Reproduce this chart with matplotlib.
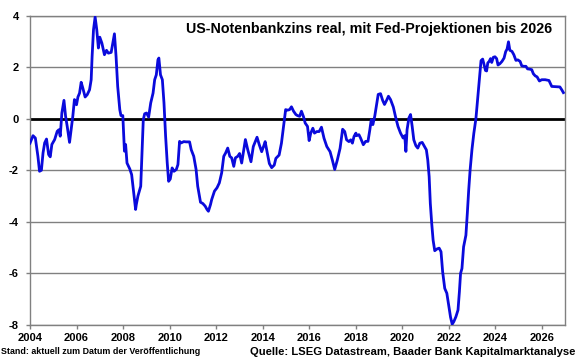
import matplotlib
matplotlib.use("Agg")
import matplotlib.pyplot as plt
import numpy as np

plt.rcParams['font.family'] = ['Liberation Sans', 'DejaVu Sans']

# decimal year, real Fed funds rate (%)
dates = [
    2004.00, 2004.13, 2004.23, 2004.34, 2004.41, 2004.49, 2004.56, 2004.63, 2004.71, 2004.80,
    2004.87, 2004.94, 2005.06, 2005.17, 2005.24, 2005.30, 2005.37, 2005.46, 2005.53, 2005.60,
    2005.70, 2005.77, 2005.84, 2005.91, 2006.00, 2006.06, 2006.13, 2006.20, 2006.27, 2006.37,
    2006.46, 2006.56, 2006.63, 2006.67, 2006.73, 2006.80, 2006.87, 2006.94, 2007.00, 2007.09,
    2007.20, 2007.29, 2007.37, 2007.49, 2007.56, 2007.63, 2007.70, 2007.77, 2007.86, 2007.91,
    2007.99, 2008.06, 2008.11, 2008.17, 2008.29, 2008.37, 2008.46, 2008.54, 2008.57, 2008.64,
    2008.76, 2008.81, 2008.87, 2008.93, 2009.01, 2009.10, 2009.19, 2009.29, 2009.36, 2009.43,
    2009.50, 2009.54, 2009.61, 2009.69, 2009.76, 2009.83, 2009.90, 2009.96, 2010.03, 2010.11,
    2010.19, 2010.29, 2010.36, 2010.43, 2010.50, 2010.61, 2010.71, 2010.86, 2010.93, 2011.04,
    2011.14, 2011.21, 2011.33, 2011.43, 2011.53, 2011.61, 2011.67, 2011.76, 2011.81, 2011.93,
    2012.04, 2012.14, 2012.24, 2012.33, 2012.41, 2012.50, 2012.59, 2012.67, 2012.76, 2012.83,
    2012.93, 2013.01, 2013.10, 2013.19, 2013.26, 2013.36, 2013.50, 2013.60, 2013.76, 2013.86,
    2013.96, 2014.04, 2014.11, 2014.19, 2014.29, 2014.39, 2014.50, 2014.57, 2014.71, 2014.81,
    2014.90, 2014.99, 2015.07, 2015.16, 2015.24, 2015.33, 2015.43, 2015.50, 2015.59, 2015.67,
    2015.76, 2015.83, 2015.93, 2016.00, 2016.07, 2016.16, 2016.23, 2016.33, 2016.43, 2016.53,
    2016.64, 2016.76, 2016.90, 2017.00, 2017.10, 2017.21, 2017.33, 2017.44, 2017.53, 2017.61,
    2017.71, 2017.79, 2017.86, 2017.93, 2018.01, 2018.04, 2018.14, 2018.21, 2018.33, 2018.43,
    2018.53, 2018.61, 2018.67, 2018.74, 2018.82, 2018.90, 2018.97, 2019.07, 2019.16, 2019.24,
    2019.33, 2019.41, 2019.50, 2019.62, 2019.71, 2019.82, 2019.93, 2020.04, 2020.11, 2020.16,
    2020.21, 2020.29, 2020.36, 2020.43, 2020.50, 2020.59, 2020.67, 2020.76, 2020.86, 2020.96,
    2021.04, 2021.10, 2021.16, 2021.21, 2021.27, 2021.33, 2021.40, 2021.50, 2021.59, 2021.67,
    2021.74, 2021.83, 2021.92, 2022.03, 2022.08, 2022.15, 2022.22, 2022.31, 2022.40, 2022.46,
    2022.51, 2022.57, 2022.64, 2022.74, 2022.80, 2022.86, 2022.92, 2023.00, 2023.08, 2023.17,
    2023.26, 2023.33, 2023.39, 2023.46, 2023.52, 2023.58, 2023.63, 2023.68, 2023.74, 2023.80,
    2023.85, 2023.92, 2023.99, 2024.06, 2024.12, 2024.20, 2024.29, 2024.38, 2024.45, 2024.51,
    2024.57, 2024.63, 2024.72, 2024.80, 2024.89, 2024.97, 2025.07, 2025.14, 2025.23, 2025.32,
    2025.39, 2025.48, 2025.57, 2025.64, 2025.72, 2025.80, 2025.90, 2026.00, 2026.15, 2026.31,
    2026.38, 2026.43, 2026.60, 2026.78, 2026.86, 2026.93,
]
values = [
    -0.95, -0.66, -0.75, -1.46, -2.04, -2.00, -1.33, -0.94, -0.79, -1.39,
    -1.48, -1.00, -0.81, -0.49, -0.43, -0.68, 0.22, 0.71, 0.09, -0.30,
    -0.92, -0.43, 0.09, 0.74, 0.54, 0.84, 0.99, 1.41, 1.19, 0.84,
    0.93, 1.12, 1.51, 2.41, 3.45, 3.94, 3.45, 2.74, 3.16, 2.93,
    2.48, 2.65, 2.54, 2.57, 2.93, 3.29, 2.41, 1.25, 0.35, 0.12,
    0.12, -1.26, -1.00, -1.72, -1.95, -2.17, -2.88, -3.52, -3.33, -3.00,
    -2.62, -1.46, -0.04, 0.19, 0.22, 0.06, 0.61, 0.99, 1.51, 1.70,
    2.28, 2.35, 1.70, 1.51, 0.61, -0.68, -1.72, -2.43, -2.34, -1.91,
    -2.04, -1.97, -1.78, -0.88, -0.94, -0.89, -0.90, -0.90, -1.20, -1.46,
    -1.97, -2.62, -3.24, -3.29, -3.39, -3.52, -3.59, -3.33, -3.14, -2.81,
    -2.68, -2.49, -2.10, -1.46, -1.33, -1.14, -1.46, -1.52, -1.85, -1.52,
    -1.46, -1.35, -1.72, -1.20, -0.81, -1.20, -1.67, -1.08, -0.72, -1.02,
    -1.28, -1.08, -0.89, -1.28, -1.74, -1.90, -1.80, -1.54, -1.41, -0.95,
    -0.30, 0.35, 0.33, 0.35, 0.46, 0.29, 0.16, 0.12, 0.09, 0.29,
    0.07, -0.17, -0.30, -0.85, -0.56, -0.37, -0.56, -0.50, -0.50, -0.33,
    -0.76, -1.08, -1.28, -1.61, -1.97, -1.61, -1.15, -0.41, -0.50, -0.82,
    -0.89, -0.82, -0.95, -0.69, -0.56, -0.66, -0.62, -0.75, -1.01, -0.88,
    -0.88, -0.43, -0.04, -0.23, 0.09, 0.55, 0.94, 0.97, 0.71, 0.55,
    0.71, 0.87, 0.74, 0.45, 0.09, -0.30, -0.56, -0.75, -0.66, -1.27,
    -0.43, 0.03, 0.16, -0.30, -0.82, -1.05, -1.14, -0.95, -0.92, -1.08,
    -1.21, -1.60, -2.25, -3.29, -4.06, -4.71, -5.12, -5.05, -5.02, -5.16,
    -5.94, -6.58, -6.77, -7.42, -7.70, -7.97, -7.87, -7.68, -7.42, -6.71,
    -6.00, -5.81, -4.97, -4.52, -3.68, -2.77, -2.00, -1.20, -0.57, 0.00,
    0.95, 1.64, 2.25, 2.31, 2.10, 1.87, 1.85, 2.16, 2.22, 2.33,
    2.18, 2.38, 2.40, 2.33, 2.08, 2.13, 2.22, 2.35, 2.60, 2.70,
    2.98, 2.65, 2.61, 2.48, 2.26, 2.28, 2.22, 2.05, 2.03, 2.03,
    1.93, 1.92, 1.90, 1.74, 1.66, 1.62, 1.46, 1.51, 1.51, 1.48,
    1.35, 1.25, 1.24, 1.23, 1.12, 1.01,
]
x_ticks = [2004, 2006, 2008, 2010, 2012, 2014, 2016, 2018, 2020, 2022, 2024, 2026]
y_ticks = [-8, -6, -4, -2, 0, 2, 4]

title = "US-Notenbankzins real, mit Fed-Projektionen bis 2026"
note_left = "Stand: aktuell zum Datum der Veröffentlichung"
note_right = "Quelle: LSEG Datastream, Baader Bank Kapitalmarktanalyse"

fig = plt.figure(figsize=(5.80, 3.59), dpi=100)
ax = fig.add_axes([30/580, 1-325/359, (565-30)/580, (325-15.5)/359])

grid_c = '#808080'
for yv in y_ticks:
    if yv != 0:
        ax.axhline(yv, color=grid_c, lw=1.0, zorder=1)
ax.axhline(0, color='black', lw=2.0, zorder=2)

ax.plot(dates, values, color='#0A0ADC', lw=2.0, zorder=3, solid_joinstyle='round')

ax.set_xlim(2004, 2027)
ax.set_ylim(-8, 4)
ax.set_xticks(x_ticks)
ax.set_yticks(y_ticks)
ax.set_xticklabels([str(t) for t in x_ticks], fontsize=8, fontweight='bold')
ax.set_yticklabels([str(t) for t in y_ticks], fontsize=8, fontweight='bold')
ax.tick_params(axis='both', direction='out', length=3, width=1, color=grid_c)
ax.tick_params(axis='y', pad=5)
ax.tick_params(axis='x', pad=3)
for s in ax.spines.values():
    s.set_color(grid_c)
    s.set_linewidth(1.0)

ax.text(0.9755, 0.955, title, transform=ax.transAxes, ha='right', va='center',
        fontsize=10.3, fontweight='bold')
fig.text(1/580, 1-352/359, note_left, ha='left', va='center', fontsize=6.4, fontweight='bold')
fig.text(575/580, 1-352/359, note_right, ha='right', va='center', fontsize=8.1, fontweight='bold')

fig.savefig('out.png', dpi=100)
